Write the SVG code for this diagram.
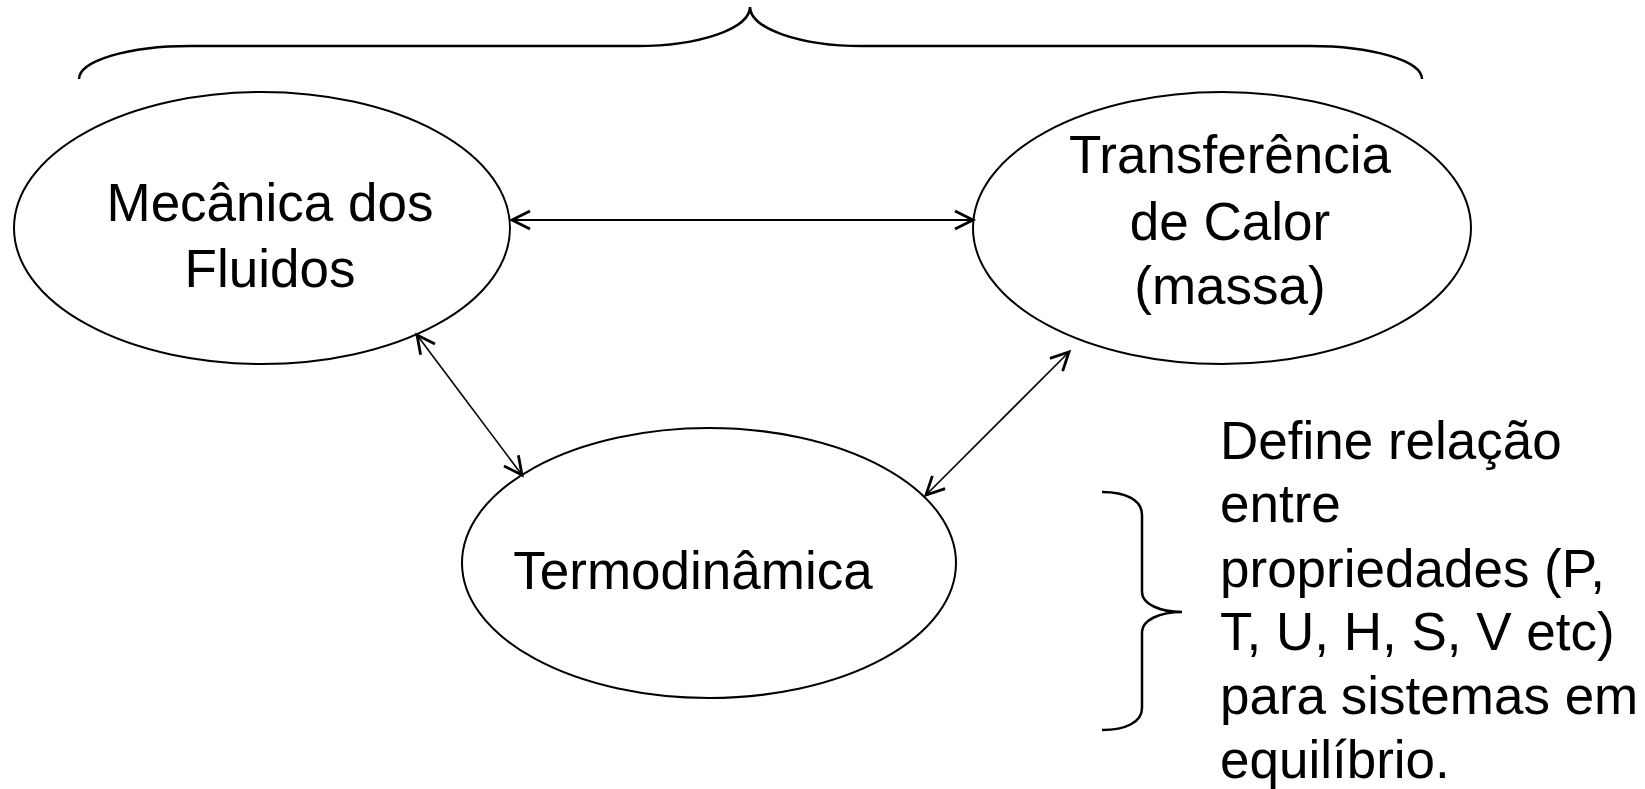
<svg xmlns="http://www.w3.org/2000/svg" width="1645" height="789" viewBox="0 0 1645 789">
<style>
.node ellipse{fill:#fff;stroke:#000;stroke-width:2}
text{font-family:"Liberation Sans",Arial,sans-serif;font-size:53px;fill:#000}
.c{text-anchor:middle}
.brace{fill:none;stroke:#000;stroke-width:2.5}
.conn line{stroke:#000}
</style>
<defs>
<marker id="chev" markerUnits="userSpaceOnUse" markerWidth="26" markerHeight="26" viewBox="-22 -13 26 26" refX="0" refY="0" orient="auto-start-reverse">
<path d="M-18,-9 L0,0 L-18,9" fill="none" stroke="#000" stroke-width="2.8"/>
</marker>
</defs>
<rect width="1645" height="789" fill="#fff"/>
<path class="brace" d="M79,79 A111,33 0 0 1 190,46 L637,46 A113,39 0 0 0 750,7 A112,39 0 0 0 862,46 L1310,46 A112,33 0 0 1 1422,79"/>
<g id="mecanica" class="node">
<ellipse cx="262" cy="228" rx="248" ry="136"/>
<text class="c" x="270" y="221">Mecânica dos</text>
<text class="c" x="270" y="287">Fluidos</text>
</g>
<g id="transferencia" class="node">
<ellipse cx="1222" cy="228" rx="249" ry="136"/>
<text class="c" x="1230" y="173">Transferência</text>
<text class="c" x="1230" y="240">de Calor</text>
<text class="c" x="1230" y="304">(massa)</text>
</g>
<g id="termodinamica" class="node">
<ellipse cx="709" cy="563" rx="247" ry="135"/>
<text class="c" x="693" y="589">Termodinâmica</text>
</g>
<g id="connectors" class="conn">
<line x1="512" y1="220" x2="973" y2="220" stroke-width="2.2" marker-start="url(#chev)" marker-end="url(#chev)"/>
<line x1="417" y1="335" x2="522" y2="475" stroke-width="1.6" marker-start="url(#chev)" marker-end="url(#chev)"/>
<line x1="1069" y1="352" x2="926" y2="495" stroke-width="1.6" marker-start="url(#chev)" marker-end="url(#chev)"/>
</g>
<g id="nota">
<path class="brace" d="M1102,492 C1126,492 1142,500 1142,515 L1142,592 C1142,604 1160,612 1182,612 C1160,612 1142,620 1142,632 L1142,708 C1142,722 1126,730 1102,730"/>
<text x="1220" y="459">Define relação</text>
<text x="1220" y="522">entre</text>
<text x="1220" y="587">propriedades (P,</text>
<text x="1220" y="650">T, U, H, S, V etc)</text>
<text x="1220" y="714">para sistemas em</text>
<text x="1220" y="778">equilíbrio.</text>
</g>
</svg>
